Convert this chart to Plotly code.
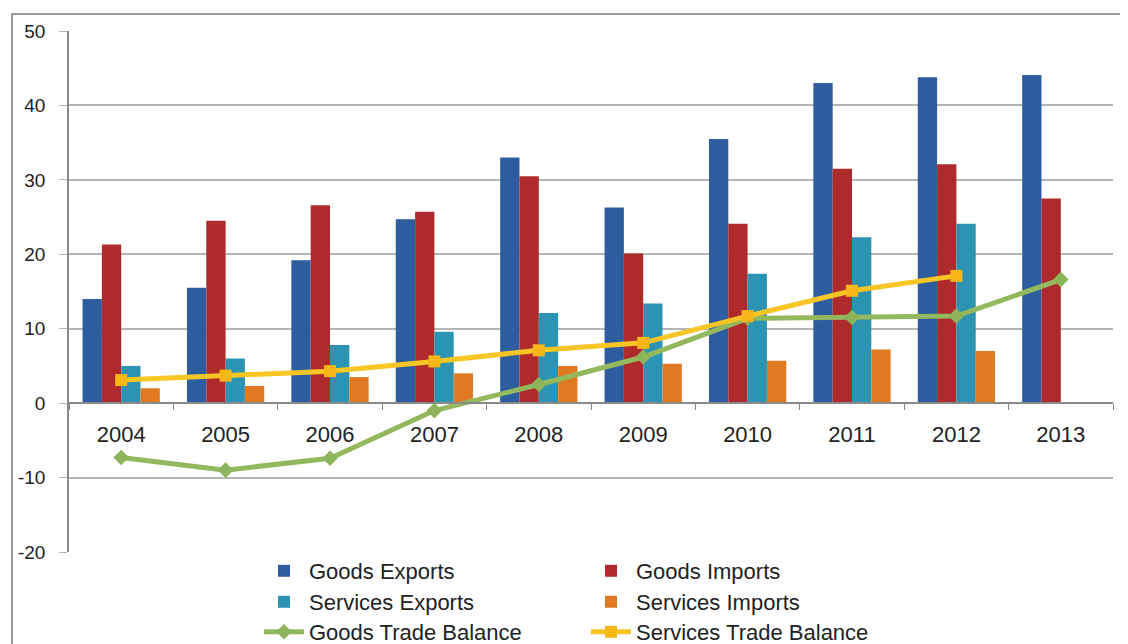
import plotly.graph_objects as go

years = ["2004", "2005", "2006", "2007", "2008", "2009", "2010", "2011", "2012", "2013"]
goods_exports = [14.0, 15.5, 19.2, 24.7, 33.0, 26.3, 35.5, 43.0, 43.8, 44.1]
goods_imports = [21.3, 24.5, 26.6, 25.7, 30.5, 20.1, 24.1, 31.5, 32.1, 27.5]
services_exports = [5.0, 6.0, 7.8, 9.6, 12.1, 13.4, 17.4, 22.3, 24.1, None]
services_imports = [2.0, 2.3, 3.5, 4.0, 5.0, 5.3, 5.7, 7.2, 7.0, None]
goods_balance = [-7.3, -9.0, -7.4, -1.0, 2.5, 6.2, 11.4, 11.5, 11.7, 16.6]
services_balance = [3.1, 3.7, 4.3, 5.6, 7.1, 8.1, 11.7, 15.1, 17.1, None]
y_tick_vals = [-20, -10, 0, 10, 20, 30, 40, 50]
y_tick_text = ["-20", "-10", "0", "10", "20", "30", "40", "50"]

FONT = "Liberation Sans, Arial, sans-serif"

OFF = 8  # page body margin offset in the screenshot
W, H = 1128, 644
L = 69 - OFF
T = 31 - OFF
B = H - (552 - OFF)
R = W - (1113 - OFF)
PW = W - L - R
PH = H - T - B

def px_x(sx):
    # screen x -> paper
    return (sx - OFF - L) / PW

def px_y(sy):
    # screen y -> paper
    return (H - B - (sy - OFF)) / PH

fig = go.Figure()

# legend placement in screen pixels: text start x, row centre y
cols = {"c1": 309, "c2": 636}
rows = [570, 601, 631]
TEXT_OFFSET = 50   # legend left edge -> text start
ROW_OFFSET = 20    # legend top edge -> row centre

specs = [
    ("Goods Exports", goods_exports, "#2D5D9F", ("c1", 0)),
    ("Goods Imports", goods_imports, "#AE2A2B", ("c2", 0)),
    ("Services Exports", services_exports, "#2C93B3", ("c1", 1)),
    ("Services Imports", services_imports, "#E07A22", ("c2", 1)),
]
legend_layouts = {}
for i, (name, vals, col, (c, r)) in enumerate(specs):
    lg = "legend" if i == 0 else "legend%d" % (i + 1)
    fig.add_trace(go.Bar(x=years, y=vals, name=name, marker_color=col,
                         marker_line_width=0, legend=lg))
    legend_layouts[lg] = (c, r)

fig.add_trace(go.Scatter(x=years, y=goods_balance, name="Goods Trade Balance",
                         mode="lines+markers", legend="legend5",
                         line=dict(color="#93B85E", width=5),
                         marker=dict(symbol="diamond", size=12, color="#8DB35B")))
legend_layouts["legend5"] = ("c1", 2)
fig.add_trace(go.Scatter(x=years, y=services_balance, name="Services Trade Balance",
                         mode="lines+markers", legend="legend6",
                         line=dict(color="#F7C524", width=5),
                         marker=dict(symbol="square", size=12, color="#F7B719")))
legend_layouts["legend6"] = ("c2", 2)

zero_pos = (0 - (-20)) / 70.0

layout_kwargs = {}
for lg, (c, r) in legend_layouts.items():
    layout_kwargs[lg] = dict(x=px_x(cols[c] - TEXT_OFFSET), y=px_y(rows[r] - ROW_OFFSET),
                             xanchor="left", yanchor="top",
                             font=dict(size=22, color="#222"),
                             itemwidth=40, bgcolor="rgba(0,0,0,0)")

fig.update_layout(
    width=W, height=H,
    margin=dict(l=L, r=R, t=T, b=B, autoexpand=False),
    paper_bgcolor="white", plot_bgcolor="white",
    barmode="group", bargap=0.26, bargroupgap=0,
    font=dict(family=FONT, size=19, color="#222222"),
    showlegend=True,
    xaxis=dict(anchor="free", position=zero_pos, showline=True, automargin=False,
               range=[-0.5, len(years) - 0.5], autorange=False,
               linecolor="#8a8a8a", linewidth=1.5, ticks="outside",
               tickson="boundaries", ticklen=6, tickcolor="#8a8a8a",
               ticklabelstandoff=12,
               showgrid=False, tickfont=dict(size=22, color="#222")),
    yaxis=dict(range=[-20, 50], tickvals=y_tick_vals, ticktext=y_tick_text,
               automargin=False,
               showgrid=True, gridcolor="#b5b5b5",
               gridwidth=1.5, zeroline=False, showline=True, linecolor="#8a8a8a",
               linewidth=1.5, ticks="outside", ticklen=8, tickcolor="#b5b5b5",
               ticklabelstandoff=10,
               tickfont=dict(size=19, color="#222")),
    **layout_kwargs,
)

fig.add_shape(type="rect", xref="paper", yref="paper",
              x0=px_x(12), x1=px_x(1126),
              y0=px_y(670), y1=px_y(14),
              line=dict(color="#7a7a7a", width=1.5), layer="below")

fig.write_html("out.html")
